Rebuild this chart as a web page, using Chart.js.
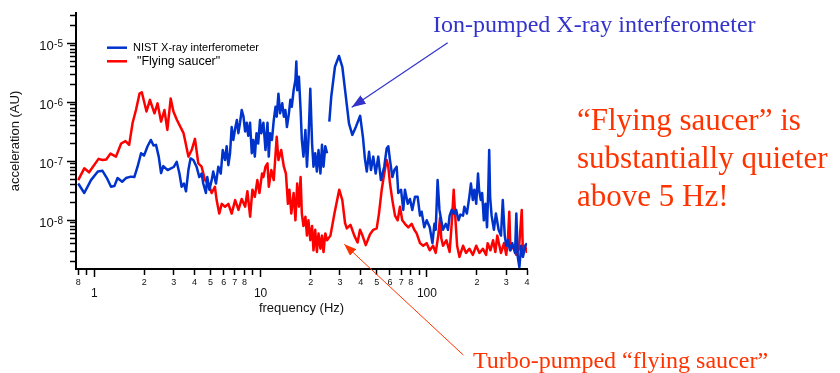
<!DOCTYPE html>
<html>
<head>
<meta charset="utf-8">
<script src="https://cdn.jsdelivr.net/npm/chart.js@4.4.1/dist/chart.umd.min.js"></script>
<style>
  html, body { margin: 0; padding: 0; background: #fff; }
  #stage { position: relative; width: 840px; height: 373px; overflow: hidden; }
  #chartBox { position: absolute; left: 0; top: 0; width: 840px; height: 373px; }
  .note { position: absolute; white-space: nowrap; font-family: "Liberation Serif", "Times New Roman", serif; }
  #ionNote { left: 433px; top: 11.5px; font-size: 24px; line-height: 24px; color: #3333cc; }
  #quietNote { left: 577px; top: 101px; font-size: 31px; line-height: 38px; color: #ff3300; }
  #turboNote { left: 473px; top: 347.5px; font-size: 24px; line-height: 24px; color: #ff3300; }
  #arrows { position: absolute; left: 0; top: 0; pointer-events: none; }
</style>
</head>
<body>
<div id="stage">
  <div id="chartBox"><canvas id="noiseChart"></canvas></div>
  <svg id="arrows" width="840" height="373">
    <defs>
      <marker id="headBlue" markerWidth="14" markerHeight="10" refX="14" refY="5" orient="auto" markerUnits="userSpaceOnUse">
        <path d="M0,0 L14,5 L0,10 Z" fill="#3333cc"/>
      </marker>
      <marker id="headRed" markerWidth="12" markerHeight="9" refX="12" refY="4.5" orient="auto" markerUnits="userSpaceOnUse">
        <path d="M0,0 L12,4.5 L0,9 Z" fill="#ff3300"/>
      </marker>
    </defs>
    <line x1="447.7" y1="42.7" x2="351.7" y2="107.3" stroke="#3333cc" stroke-width="1.2" marker-end="url(#headBlue)"/>
    <line x1="463.3" y1="355" x2="344.3" y2="244.3" stroke="#ff3300" stroke-width="1" marker-end="url(#headRed)"/>
  </svg>
  <div class="note" id="ionNote">Ion-pumped X-ray interferometer</div>
  <div class="note" id="quietNote">“Flying saucer” is<br>substantially quieter<br>above 5 Hz!</div>
  <div class="note" id="turboNote">Turbo-pumped “flying saucer”</div>
</div>
<script>
// NIST X-ray interferometer spectrum (null = break in the trace)
const blueHz = [
  0.80, 0.87, 0.955, 1.05, 1.12, 1.19, 1.26, 1.32, 1.38, 1.47,
  1.55, 1.66, 1.74, 1.82, 1.91, 1.99, 2.09, 2.19, 2.27, 2.35,
  2.44, 2.52, 2.60, 2.76, 2.87, 3.00, 3.13, 3.25, 3.35, 3.46,
  3.56, 3.68, 3.79, 3.94, 4.12, 4.28, 4.42, 4.52, 4.69, 4.78,
  4.92, 5.08, 5.19, 5.39, 5.57, 5.76, 5.92, 6.11, 6.25, 6.40,
  6.55, 6.70, 6.85, 7.03, 7.20, 7.35, 7.52, 7.70, 7.89, 8.07,
  8.25, 8.43, 8.64, 8.85, 9.03, 9.23, 9.45, 9.67, 9.92, 10.1,
  10.4, 10.7, 11.0, 11.2, 11.4, 11.7, 12.0, 12.3, 12.5, 12.8,
  13.1, 13.5, 13.8, 14.1, 14.4, 14.8, 15.1, 15.4, 15.8, 16.2,
  16.4, 16.6, 17.0, 17.4, 17.7, 18.1, 18.6, 19.0, 19.4, 19.9,
  20.4, 20.8, 21.3, 21.8, 22.3, 22.9, 23.4, 23.9, 24.5, 25.1,
  25.5, 25.9, 26.6, 28.0, 29.6, 31.0, 32.4, 34.0, 35.6, 37.5,
  39.7, 41.3, 42.4, 43.5, 44.9, 46.1, 47.6, 49.2, 51.0, 52.9,
  55.4, 57.3, 58.6, 60.0, 62.0, 63.7, 65.8, 67.3, 69.9, 72.1,
  73.8, 76.7, 79.1, 81.7, 84.8, 88.0, 90.9, 93.0, 96.4, 99.7,
  104, 108, 111, 113, 116, 119, 122, 125, 130, 134,
  137, 141, 145, 150, 155, 159, 165, 168, 174, 180,
  184, 189, 193, 198, 203, 206, 211, 215, 220, 225,
  230, 234, 237, 240, 245, 253, 260, 270, 279, 286,
  294, 300, 307, 316, 326, 339, 345, 352, 360, 369,
  378, 391, 400
];
const blueAcc = [
  4.2e-8, 2.9e-8, 4.8e-8, 6.7e-8, 6.9e-8, 5.2e-8, 3.7e-8, 3.8e-8, 5.2e-8, 4.5e-8,
  5.2e-8, 5.5e-8, 5.4e-8, 8.1e-8, 1.37e-7, 1.25e-7, 1.8e-7, 2.3e-7, 1.85e-7, 1.9e-7,
  1.2e-7, 6.3e-8, 8.3e-8, 7.1e-8, 7.5e-8, 8.0e-8, 9.8e-8, 6.2e-8, 3.7e-8, 4.2e-8,
  3.1e-8, 7.1e-8, 1.12e-7, 1.05e-7, 8.1e-8, 5.4e-8, 6.2e-8, 4.2e-8, 2.9e-8, 5.4e-8,
  3.3e-8, 4.8e-8, 6.7e-8, 4.2e-8, 8.1e-8, 6.2e-8, 1.55e-7, 1.05e-7, 1.8e-7, 8.6e-8,
  1.37e-7, 3.8e-7, 2.3e-7, 3.6e-7, 5.0e-7, 3.0e-7, 4.5e-7, 7.4e-7, 5.7e-7, 3.2e-7,
  4.5e-7, 2.7e-7, 4.5e-7, 1.37e-7, 2.3e-7, 1.2e-7, 3.0e-7, 2.0e-7, 5.0e-7, 3.0e-7,
  4.5e-7, 1.55e-7, 4.5e-7, 1.2e-7, 3.0e-7, 2.3e-7, 5.0e-7, 8.4e-7, 5.7e-7, 1.4e-6,
  6.5e-7, 9.6e-7, 5.7e-7, 7.4e-7, 3.8e-7, 6.5e-7, 1.1e-6, 8.4e-7, 1.6e-6, 2.4e-6,
  4.9e-6, 1.6e-6, 2.7e-6, 7.4e-7, 2.3e-7, 1.2e-7, 3.4e-7, 8.1e-8, 2.3e-7, 1.7e-6,
  2.0e-7, 8.1e-8, 1.37e-7, 6.7e-8, 1.55e-7, 6.2e-8, 1.9e-7, 8.1e-8, 1.8e-7, 1.37e-7,
  null, 4.7e-7, 1.25e-6, 4.0e-6, 6.1e-6, 4.0e-6, 1.4e-6, 4.4e-7, 2.8e-7, 3.9e-7,
  5.9e-7, 2.5e-7, 1.1e-7, 6.7e-8, 1.45e-7, 7.1e-8, 1.2e-7, 6.2e-8, 1.2e-7, 4.8e-8,
  8.1e-8, 1.65e-7, 1.8e-7, 1.05e-7, 5.4e-8, 7.1e-8, 8.1e-8, 2.9e-8, 3.3e-8, 1.5e-8,
  3.3e-8, 1.9e-8, 2.3e-8, 1.5e-8, 2.5e-8, 2.5e-8, 1.2e-8, 1.4e-8, 7.6e-9, 1.0e-8,
  7.6e-9, 4.1e-9, 8.7e-9, 6.9e-9, 4.8e-8, 1.5e-8, 1.0e-8, 6.9e-9, 8.7e-9, 6.9e-9,
  1.2e-8, 1.5e-8, 1.3e-8, 1.5e-8, 1.0e-8, 1.25e-8, 1.2e-8, 1.7e-8, 1.3e-8, 2.5e-8,
  4.2e-8, 2.2e-8, 3.3e-8, 1.9e-8, 6.2e-8, 3.3e-8, 2.2e-8, 2.9e-8, 1.0e-8, 1.9e-8,
  7.6e-9, 3.3e-8, 1.55e-7, 2.5e-8, 1.2e-8, 6.9e-9, 1.3e-8, 6.9e-9, 5.5e-9, 2.2e-8,
  5.5e-9, 3.7e-9, 4.6e-9, 3.1e-9, 4.1e-9, 2.8e-9, 1.3e-8, 2.4e-9, 1.6e-9, 3.7e-9,
  2.4e-9, 3.7e-9, 4.1e-9
];

// "Flying saucer" spectrum
const redHz = [
  0.80, 0.87, 0.93, 1.06, 1.12, 1.18, 1.25, 1.35, 1.45, 1.54,
  1.62, 1.70, 1.78, 1.87, 1.93, 2.06, 2.16, 2.30, 2.40, 2.52,
  2.64, 2.75, 2.88, 2.99, 3.14, 3.44, 3.51, 3.68, 3.85, 4.03,
  4.22, 4.42, 4.63, 4.85, 5.08, 5.31, 5.44, 5.64, 5.84, 6.11,
  6.40, 6.70, 7.03, 7.36, 7.70, 8.07, 8.33, 8.65, 8.93, 9.23,
  9.56, 9.84, 10.2, 10.4, 10.7, 11.0, 11.2, 11.6, 12.0, 12.5,
  12.8, 13.3, 13.8, 14.2, 14.6, 14.9, 15.3, 15.8, 16.2, 16.6,
  17.0, 17.4, 17.7, 18.1, 18.6, 19.0, 19.4, 19.9, 20.4, 20.8,
  21.3, 21.8, 22.3, 22.9, 23.4, 23.9, 24.5, 25.1, 26.3, 27.8,
  29.7, 31.0, 32.2, 33.0, 34.7, 36.6, 38.3, 39.6, 41.0, 42.9,
  45.5, 47.6, 49.9, 51.5, 53.5, 55.4, 57.3, 58.6, 60.0, 62.0,
  64.3, 66.7, 68.9, 71.1, 73.8, 77.3, 81.0, 84.0, 86.8, 90.9,
  95.0, 99.7, 104, 109, 113, 117, 120, 122, 125, 131,
  137, 141, 145, 148, 152, 157, 165, 172, 180, 189,
  198, 207, 217, 227, 232, 241, 250, 258, 265, 272,
  279, 291, 300, 307, 313, 318, 330, 345, 358, 372,
  378, 389, 400
];
const redAcc = [
  4.8e-8, 7.6e-8, 6.5e-8, 1.1e-7, 1.05e-7, 1.07e-7, 1.35e-7, 1.2e-7, 2.0e-7, 2.2e-7,
  1.9e-7, 4.5e-7, 7.4e-7, 1.4e-6, 1.48e-6, 7.0e-7, 1.1e-6, 6.5e-7, 9.6e-7, 4.7e-7,
  7.4e-7, 3.4e-7, 1.16e-6, 7.0e-7, 5.0e-7, 3.0e-7, 2.3e-7, 1.2e-7, 1.55e-7, 2.4e-7,
  9.2e-8, 8.1e-8, 4.8e-8, 4.2e-8, 2.9e-8, 3.7e-8, 2.2e-8, 1.3e-8, 1.9e-8, 1.7e-8,
  1.9e-8, 1.3e-8, 2.2e-8, 1.5e-8, 2.3e-8, 1.7e-8, 3.1e-8, 1.15e-8, 3.3e-8, 2.5e-8,
  4.8e-8, 2.9e-8, 6.2e-8, 5.4e-8, 8.1e-8, 9.2e-8, 3.7e-8, 7.1e-8, 4.8e-8, 2.6e-7,
  1.05e-7, 1.55e-7, 8.1e-8, 6.2e-8, 1.9e-8, 3.3e-8, 1.3e-8, 2.9e-8, 1.0e-8, 4.2e-8,
  1.7e-8, 5.4e-8, 1.3e-8, 8.0e-9, 1.15e-8, 5.5e-9, 1.0e-8, 4.6e-9, 8.0e-9, 3.1e-9,
  6.9e-9, 2.9e-9, 6.0e-9, 3.3e-9, 5.5e-9, 2.9e-9, 6.0e-9, 4.6e-9, 5.5e-9, 1.3e-8,
  3.3e-8, 2.2e-8, 9.0e-9, 7.3e-9, 8.4e-9, 5.5e-9, 4.2e-9, 6.9e-9, 5.5e-9, 3.8e-9,
  5.8e-9, 6.9e-9, 7.3e-9, 1.3e-8, 3.3e-8, 6.2e-8, 1.05e-7, 8.1e-8, 4.2e-8, 2.2e-8,
  1.2e-8, 1.0e-8, 1.7e-8, 1.0e-8, 8.7e-9, 7.6e-9, 8.7e-9, 6.9e-9, 6.0e-9, 4.1e-9,
  3.7e-9, 4.1e-9, 3.1e-9, 3.7e-9, 2.8e-9, 5.5e-9, 1.1e-8, 5.0e-9, 3.7e-9, 4.6e-9,
  2.9e-9, 8.7e-9, 3.3e-8, 1.2e-8, 3.7e-9, 2.4e-9, 3.7e-9, 2.8e-9, 3.3e-9, 2.6e-9,
  3.7e-9, 2.8e-9, 3.3e-9, 2.6e-9, 4.1e-9, 3.1e-9, 4.6e-9, 2.9e-9, 5.5e-9, 3.9e-9,
  2.8e-9, 4.1e-9, 2.6e-9, 4.6e-9, 1.4e-8, 3.1e-9, 3.7e-9, 2.6e-9, 3.3e-9, 1.5e-8,
  2.8e-9, 3.7e-9, 2.8e-9
];

// frequency axis ticks: digit labels on minor ticks, decade numbers under the majors
const xTickHz = [0.8, 0.9, 1, 2, 3, 4, 5, 6, 7, 8, 9, 10, 20, 30, 40, 50, 60, 70, 80, 90, 100, 200, 300, 400];
const xTickText = ['8', '', '1', '2', '3', '4', '5', '6', '7', '8', '', '10', '2', '3', '4', '5', '6', '7', '8', '', '100', '2', '3', '4'];
const xMajorHz = [1, 10, 100];

// acceleration axis: labelled decades (10 with a raised exponent), unlabelled 2..9 ticks
const yDecades = [1e-9, 1e-8, 1e-7, 1e-6, 1e-5];
const yMajorAcc = [1e-8, 1e-7, 1e-6, 1e-5];
const yMajorExp = ['-8', '-7', '-6', '-5'];

const X_MIN = 0.776, X_MAX = 400;
const Y_MIN = 1.495e-9, Y_MAX = 3.26e-5;

const yTickAcc = [];
yDecades.forEach(d => {
    for (let m = 1; m <= 9; m++) {
        const v = m === 1 ? d : m * d;
        if (v >= Y_MIN && v <= Y_MAX) yTickAcc.push(v);
    }
});

const toPoints = (hz, acc) => hz.map((f, i) => ({x: f, y: acc[i]}));

const SANS = '"Liberation Sans", Arial, Helvetica, sans-serif';

const isXMajor = c => !!(c.tick && xMajorHz.includes(c.tick.value));
const isYMajor = c => !!(c.tick && yMajorAcc.includes(c.tick.value));

// "10" plus superscript exponent next to each decade tick
const powerLabels = {
    id: 'powerLabels',
    afterDraw(chart) {
        const {ctx} = chart;
        const yScale = chart.scales.y;
        const right = yScale.right - 13;
        ctx.save();
        ctx.fillStyle = '#111';
        ctx.textAlign = 'right';
        ctx.textBaseline = 'alphabetic';
        yMajorAcc.forEach((v, i) => {
            const py = yScale.getPixelForValue(v);
            ctx.font = '10px ' + SANS;
            const expW = ctx.measureText(yMajorExp[i]).width;
            ctx.fillText(yMajorExp[i], right, py + 3.6);
            ctx.font = '13px ' + SANS;
            ctx.fillText('10', right - expW - 0.5, py + 6.6);
        });
        ctx.restore();
    }
};

// little key in the upper left of the plot
const seriesKey = {
    id: 'seriesKey',
    afterDatasetsDraw(chart) {
        const {ctx, chartArea} = chart;
        const rows = [
            {dy: 34.7, size: 11, tx: 57},
            {dy: 48.3, size: 12.5, tx: 61}
        ];
        chart.data.datasets.forEach((ds, i) => {
            const r = rows[i];
            const y = chartArea.top + r.dy;
            ctx.save();
            ctx.strokeStyle = ds.borderColor;
            ctx.lineWidth = 2.5;
            ctx.beginPath();
            ctx.moveTo(chartArea.left + 31, y);
            ctx.lineTo(chartArea.left + 51, y);
            ctx.stroke();
            ctx.fillStyle = '#000';
            ctx.font = r.size + 'px ' + SANS;
            ctx.textBaseline = 'middle';
            ctx.fillText(ds.label, chartArea.left + r.tx, y);
            ctx.restore();
        });
    }
};

const noiseConfig = {
    type: 'line',
    data: {
        datasets: [{
            label: 'NIST X-ray interferometer',
            data: toPoints(blueHz, blueAcc),
            borderColor: '#0033cc',
            borderWidth: 2.5,
            order: 0
        }, {
            label: '"Flying saucer"',
            data: toPoints(redHz, redAcc),
            borderColor: '#ff0000',
            borderWidth: 2.5,
            order: 1
        }]
    },
    options: {
        responsive: true,
        maintainAspectRatio: false,
        devicePixelRatio: 1,
        animation: false,
        events: [],
        spanGaps: false,
        elements: {
            point: {radius: 0},
            line: {tension: 0, borderJoinStyle: 'round', fill: false}
        },
        layout: {padding: {left: 0, top: 13, right: 313, bottom: 53}},
        plugins: {
            legend: {display: false},
            tooltip: {enabled: false}
        },
        scales: {
            x: {
                type: 'logarithmic',
                position: 'bottom',
                min: X_MIN,
                max: X_MAX,
                bounds: 'data',
                afterBuildTicks: scale => {
                    scale.ticks = xTickHz.map(v => ({value: v, major: xMajorHz.includes(v)}));
                },
                afterFit: scale => { scale.height = 51; },
                border: {display: true, color: '#000', width: 2},
                grid: {
                    drawOnChartArea: false,
                    drawTicks: true,
                    tickLength: 8,
                    tickWidth: 1.5,
                    tickColor: '#000',
                    tickBorderDash: c => isXMajor(c) ? [] : [5, 50]
                },
                ticks: {
                    autoSkip: false,
                    maxRotation: 0,
                    padding: 0,
                    color: '#111',
                    font: c => isXMajor(c)
                        ? {family: SANS, size: 12, lineHeight: 0.9}
                        : {family: SANS, size: 9, lineHeight: 1.2},
                    callback: (value) => {
                        const t = xTickText[xTickHz.indexOf(value)];
                        return xMajorHz.includes(value) ? ['', t] : t;
                    }
                },
                title: {
                    display: true,
                    text: 'frequency (Hz)',
                    color: '#111',
                    font: {family: SANS, size: 13, lineHeight: 1.2},
                    padding: {top: 0, bottom: 4}
                }
            },
            y: {
                type: 'logarithmic',
                position: 'left',
                min: Y_MIN,
                max: Y_MAX,
                bounds: 'data',
                afterBuildTicks: scale => {
                    scale.ticks = yTickAcc.map(v => ({value: v, major: yMajorAcc.includes(v)}));
                },
                afterFit: scale => { scale.width = 76; },
                border: {display: true, color: '#000', width: 2},
                grid: {
                    drawOnChartArea: false,
                    drawTicks: true,
                    tickLength: 9,
                    tickWidth: 1.5,
                    tickColor: '#000',
                    tickBorderDash: c => isYMajor(c) ? [] : [6, 50],
                    tickBorderDashOffset: c => isYMajor(c) ? 0 : 53
                },
                ticks: {
                    autoSkip: false,
                    padding: 4,
                    callback: () => ''
                },
                title: {
                    display: true,
                    text: 'acceleration (AU)',
                    color: '#111',
                    font: {family: SANS, size: 13, lineHeight: 1.2},
                    padding: {top: 8, bottom: 0}
                }
            }
        }
    },
    plugins: [seriesKey, powerLabels]
};

const noiseChart = new Chart(document.getElementById('noiseChart'), noiseConfig);
</script>
</body>
</html>
